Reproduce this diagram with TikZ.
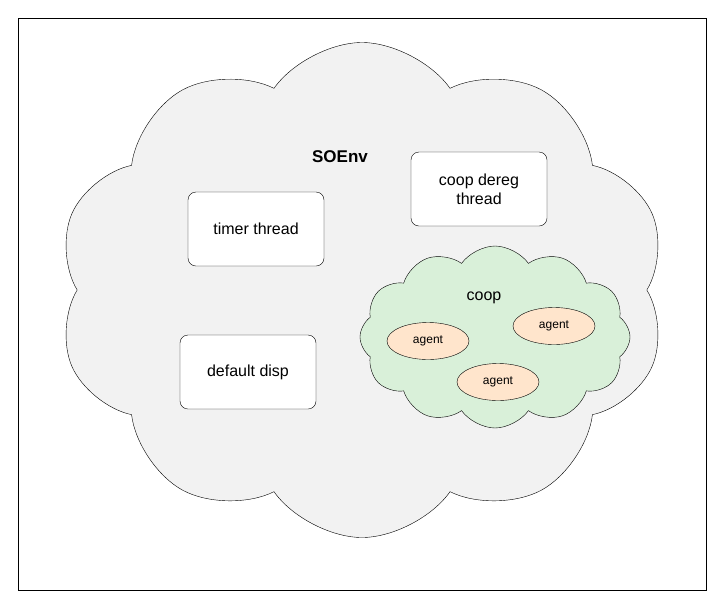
\documentclass[tikz,border=0pt]{standalone}
\usepackage{fontspec}
\setmainfont{Liberation Sans}
\usetikzlibrary{shapes.symbols,shapes.geometric}
\begin{document}
\begin{tikzpicture}[x=1pt,y=-1pt,
  box/.style={draw,rounded corners=8pt,fill=white,minimum width=136pt,minimum height=74pt,align=center,font=\fontsize{16}{19}\selectfont},
  agent/.style={draw,ellipse,fill=orange!20!white,minimum width=82pt,minimum height=37pt,font=\fontsize{12}{14}\selectfont}]
\useasboundingbox (0,0) rectangle (725,614);
\node[draw,minimum width=688pt,minimum height=572pt,anchor=north west,inner sep=0] (frame) at (18,18) {};
\node[cloud,draw,cloud puffs=10,cloud puff arc=110,fill=gray!10,minimum width=610pt,minimum height=495pt,aspect=1.3] (soenv) at (362,290) {};
\node[cloud,draw,cloud puffs=12,cloud puff arc=110,fill=green!60!black!15!white,minimum width=270pt,minimum height=182pt,aspect=1.6] (coopc) at (495,337) {};
\node[font=\bfseries\fontsize{17}{20}\selectfont] (soenvl) at (340,157) {SOEnv};
\node[box] (timer) at (256,229) {timer thread};
\node[box] (dereg) at (479,189) {coop dereg\\thread};
\node[box] (disp) at (248,372) {default disp};
\node[font=\fontsize{16}{19}\selectfont] (coopl) at (484,298) {coop};
\node[agent] (a1) at (428,341) {agent};
\node[agent] (a2) at (554,326) {agent};
\node[agent] (a3) at (498,382) {agent};
\end{tikzpicture}
\end{document}
